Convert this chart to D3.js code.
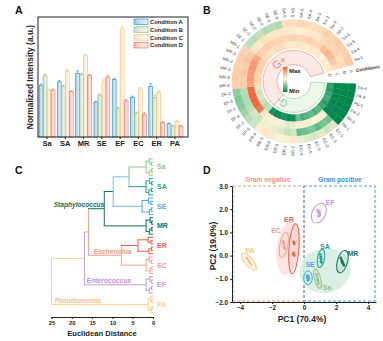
<!DOCTYPE html>
<html><head><meta charset="utf-8">
<script src="https://cdn.jsdelivr.net/npm/d3@7"></script>
<style>body{margin:0;background:#fff}svg{display:block}text{font-family:"Liberation Sans",Arial,Helvetica,sans-serif}</style>
</head><body><svg id="c" width="383" height="341"></svg>
<script>
// ---------------- DATA ----------------
// Panel A
const barCategories = ["Sa","SA","MR","SE","EF","EC","ER","PA"];
const conditions = ["Condition A","Condition B","Condition C","Condition D"];
const condA = [0.43,0.46,0.53,0.29,0.48,0.33,0.42,0.11];
const condB = [0.51,0.42,0.52,0.35,0.24,0.20,0.33,0.09];
const condC = [0.39,0.55,0.68,0.46,0.90,0.40,0.37,0.13];
const condD = [0.39,0.38,0.51,0.50,0.30,0.19,0.12,0.09];
const errA = [0.012,0.012,0.022,0.008,0.010,0.010,0.025,0.006];
const errB = [0.015,0.012,0.012,0.010,0.008,0.008,0.020,0.006];
const errC = [0.010,0.010,0.012,0.020,0.018,0.012,0.015,0.008];
const errD = [0.010,0.006,0.010,0.015,0.012,0.012,0.008,0.008];

// Panel B (circular heatmap, clockwise from 3 o'clock)
const hmLabels = ["PA-4","PA-6","PA-5","PA-2","PA-3","PA-1",
 "EC-1","EC-3","EC-2","EC-5","EC-6","EC-4",
 "ER-2","ER-1","ER-5","ER-6","ER-3","ER-4",
 "EF-6","EF-5","EF-4","EF-1","EF-3","EF-2",
 "MR-4","MR-6","MR-5","MR-2","MR-3","MR-1",
 "SE-1","SE-3","SE-2","SE-6","SE-4","SE-5",
 "SA-5","SA-1","SA-6","SA-4","SA-2","SA-3",
 "Sa-3","Sa-2","Sa-6","Sa-5","Sa-4","Sa-1"];
const hmD = [0.15,0.13,0.16,0.18,0.14,0.16, 0.21,0.19,0.22,0.20,0.18,0.23, 0.10,0.09,0.11,0.10,0.09,0.11,
 0.36,0.34,0.37,0.40,0.38,0.41, 0.58,0.60,0.57,0.62,0.59,0.60, 0.55,0.54,0.52,0.54,0.56,0.53,
 0.50,0.49,0.52,0.50,0.48,0.51, 0.49,0.50,0.47,0.50,0.48,0.49];
const hmC = [0.07,0.06,0.08,0.07,0.09,0.07, 0.45,0.47,0.46,0.44,0.47,0.45, 0.43,0.41,0.45,0.46,0.47,0.48,
 0.52,0.86,0.90,0.92,0.93,0.91, 0.73,0.76,0.75,0.78,0.77,0.72, 0.60,0.58,0.61,0.59,0.57,0.58,
 0.57,0.59,0.56,0.58,0.60,0.57, 0.57,0.66,0.69,0.66,0.62,0.56];
const hmB = [0.05,0.04,0.05,0.06,0.04,0.05, 0.24,0.25,0.22,0.26,0.24,0.23, 0.40,0.37,0.41,0.43,0.45,0.44,
 0.38,0.40,0.36,0.34,0.33,0.35, 0.62,0.60,0.63,0.61,0.64,0.62, 0.52,0.50,0.53,0.51,0.50,0.52,
 0.50,0.48,0.47,0.49,0.51,0.50, 0.55,0.58,0.57,0.59,0.54,0.56];
const hmA = [0.03,0.03,0.04,0.03,0.04,0.03, 0.41,0.39,0.42,0.40,0.41,0.43, 0.49,0.47,0.46,0.50,0.51,0.48,
 0.38,0.35,0.31,0.27,0.26,0.28, 0.60,0.62,0.61,0.59,0.60,0.58, 0.36,0.35,0.37,0.34,0.35,0.33,
 0.55,0.54,0.57,0.55,0.53,0.56, 0.60,0.58,0.61,0.59,0.60,0.62];
const ringConditions = ["D","C","B","A"];

// Panel C (dendrogram)
const dendroGroups = ["Sa","SA","SE","MR","ER","EC","EF","PA"];
const groupRootH = [1.7,1.7,2.7,1.7,3.7,1.7,1.7,1.2];
const groupSubH = [[0.9,0.8],[0.8,1.0],[1.1,0.9],[0.7,0.9],[1.2,1.0],[0.9,0.7],[0.8,0.9],[0.6,0.5]];
const groupPairH = [[0.4,0.3],[0.3,0.4],[0.5,0.4],[0.3,0.3],[0.5,0.4],[0.4,0.3],[0.3,0.4],[0.3,0.2]];
const mergeA = ["Sa","n1","n2","ER","n3","n5","n6"];
const mergeB = ["SA","SE","MR","EC","n4","EF","PA"];
const mergeH = [5.9,9.8,12.0,7.8,15.9,16.9,25];
const distTicks = [25,20,15,10,5,0];

// Panel D (PCA)
const pcaGroups = ["PA","EC","ER","EF","SA","MR","SE","Sa"];
const pcaPoints = {
 PA:[[-3.58,-0.1],[-3.52,-0.16],[-3.44,-0.24],[-3.36,-0.32],[-3.3,-0.4],[-3.42,-0.28]],
 EC:[[-1.3,0.62],[-1.28,0.52],[-1.22,0.42],[-1.25,0.35],[-1.2,0.3],[-1.27,0.56]],
 ER:[[-0.66,0.6],[-0.6,0.55],[-0.62,0.5],[-0.68,0.06],[-0.6,0.0],[-0.64,0.12]],
 EF:[[0.85,1.95],[0.9,1.86],[0.96,1.9],[1.0,1.8],[0.98,1.74],[0.92,1.7]],
 SA:[[1.02,0.05],[1.05,-0.05],[1.08,-0.15],[1.06,-0.25],[1.1,-0.3],[1.04,-0.1]],
 MR:[[2.3,-0.1],[2.35,-0.2],[2.4,-0.25],[2.45,-0.35],[2.5,-0.42],[2.38,-0.3]],
 SE:[[0.2,-0.86],[0.28,-0.9],[0.22,-0.98],[0.3,-1.0],[0.25,-1.06],[0.2,-0.95]],
 Sa:[[0.78,-0.8],[0.82,-0.9],[0.85,-1.0],[0.88,-1.1],[0.9,-1.2],[0.84,-1.05]]
};
const pcaEllipseCenter = {PA:[-3.44,-0.26],EC:[-1.26,0.46],ER:[-0.63,0.3],EF:[0.93,1.83],SA:[1.06,-0.12],MR:[2.4,-0.26],SE:[0.25,-0.96],Sa:[0.85,-1.0]};
const pcaEllipseRadius = {PA:[0.25,0.45],EC:[0.25,0.56],ER:[0.31,1.08],EF:[0.42,0.45],SA:[0.22,0.4],MR:[0.32,0.5],SE:[0.27,0.3],Sa:[0.19,0.42]};
const pcaEllipseTilt = {PA:-40,EC:10,ER:4,EF:25,SA:10,MR:15,SE:0,Sa:-15};
const hullCenter = {neg:[-0.97,0.33], pos:[1.32,-0.65]};
const hullRadius = {neg:[0.74,1.16], pos:[1.62,0.96]};
const hullTilt = {neg:8, pos:-12};
const pcaLabelPos = {PA:[-3.375,0.2],EC:[-1.75,1.06],ER:[-0.94,1.54],EF:[1.63,2.27],SA:[1.31,0.37],MR:[3.06,0.07],SE:[0.38,-0.4],Sa:[1.44,-1.39]};

// ---------------- STYLE ----------------
const svg = d3.select("#c");
const defs = svg.append("defs");
const colA = ["#3a9ad9","#98c08a","#f9c784","#f37b68"];
const bugColor = {Sa:"#93c587",SA:"#1fa08e",SE:"#4aa8e2",MR:"#12705f",ER:"#f05b48",EC:"#f5a092",EF:"#c79bd8",PA:"#fbcf8c"};

// panel letters
[["A",15,14],["B",203,14],["C",15,174],["D",203,174]].forEach(([t,x,y])=>
  svg.append("text").attr("x",x).attr("y",y).attr("font-size",10.5).attr("font-weight","bold").attr("fill","#111").text(t));

// ---------------- PANEL A ----------------
(function(){
  const gA = svg.append("g");
  const x0 = d3.scaleBand().domain(barCategories).range([39,183]).paddingInner(0.12);
  const x1 = d3.scaleBand().domain(conditions).range([0,x0.bandwidth()]).padding(0.03);
  const y = d3.scaleLinear().domain([0,1]).range([137,17]);
  const series = [condA,condB,condC,condD], errs=[errA,errB,errC,errD];
  colA.forEach((c,i)=>{
    const lg = defs.append("linearGradient").attr("id","gA"+i).attr("x1","0").attr("x2","1").attr("y1","0").attr("y2","0");
    lg.append("stop").attr("offset","0%").attr("stop-color",c).attr("stop-opacity",0.55);
    lg.append("stop").attr("offset","40%").attr("stop-color",c).attr("stop-opacity",0.3);
    lg.append("stop").attr("offset","100%").attr("stop-color",c).attr("stop-opacity",0.15);
  });
  conditions.forEach((cond,ci)=>{
    const g = gA.append("g");
    g.selectAll("rect").data(series[ci]).join("rect")
      .attr("x",(v,i)=>x0(barCategories[i])+x1(cond)).attr("y",v=>y(v))
      .attr("width",x1.bandwidth()).attr("height",v=>y(0)-y(v))
      .attr("fill","url(#gA"+ci+")").attr("stroke",colA[ci]).attr("stroke-width",0.7);
    g.selectAll("path").data(series[ci]).join("path")
      .attr("d",(v,i)=>{const cx=x0(barCategories[i])+x1(cond)+x1.bandwidth()/2; const t=y(v+errs[ci][i]);
        return `M${cx},${y(v)}V${t}M${cx-1.3},${t}H${cx+1.3}`;})
      .attr("stroke",colA[ci]).attr("stroke-width",0.7).attr("fill","none");
  });
  gA.append("rect").attr("x",38).attr("y",17).attr("width",150).attr("height",120).attr("fill","none").attr("stroke","#222").attr("stroke-width",1);
  const ax = gA.append("g").attr("transform","translate(0,137)").call(d3.axisBottom(x0).tickSize(2).tickPadding(2));
  ax.select(".domain").remove();
  ax.selectAll("line").attr("stroke","#222");
  ax.selectAll("text").attr("font-size",7.5).attr("font-weight","bold").attr("fill","#222").attr("font-family",null);
  gA.append("text").attr("transform","translate(33,77) rotate(-90)").attr("text-anchor","middle")
    .attr("font-size",8.4).attr("font-weight","bold").attr("fill","#222").text("Normalized Intensity (a.u.)");
  const lg = gA.append("g");
  conditions.forEach((c,i)=>{
    const yy = 19 + i*7.8;
    lg.append("rect").attr("x",134).attr("y",yy).attr("width",14).attr("height",5.6)
      .attr("fill","url(#gA"+i+")").attr("stroke",colA[i]).attr("stroke-width",0.7);
    lg.append("text").attr("x",150).attr("y",yy+4.9).attr("font-size",5.8).attr("font-weight","bold").attr("fill","#222").text(c);
  });
})();

// ---------------- PANEL B ----------------
(function(){
  const cx=294, cy=81.5;
  const g = svg.append("g").attr("transform",`translate(${cx},${cy})`);
  const hmColor = d3.scaleLinear().domain([0.08,0.28,0.46,0.62,0.92])
     .range(["#00874e","#8ccfa2","#fdf3d6","#fbcaa6","#f4623a"]).clamp(true);
  const n = hmLabels.length;
  const ang = d3.scaleLinear().domain([0,n]).range([2,344]);
  const rad = d => (d+90)*Math.PI/180;
  const ringR = d3.scaleLinear().domain([0,4]).range([33,62]);
  const arc = d3.arc();
  [hmD,hmC,hmB,hmA].forEach((vals,ri)=>{
    g.append("g").selectAll("path").data(vals).join("path")
      .attr("d",(v,i)=>arc({innerRadius:ringR(ri),outerRadius:ringR(ri+1),startAngle:rad(ang(i)),endAngle:rad(ang(i+1))}))
      .attr("fill",v=>hmColor(v)).attr("stroke",v=>hmColor(v)).attr("stroke-width",0.25);
  });
  g.append("g").selectAll("text").data(hmLabels).join("text")
    .attr("transform",(t,i)=>{const a=ang(i+0.5); const f=a>90&&a<270; return `rotate(${a}) translate(${f?64.5:64},0)`+(f?" rotate(180)":"");})
    .attr("text-anchor",(t,i)=>{const a=ang(i+0.5); return a>90&&a<270?"end":"start";})
    .attr("dy","0.35em").attr("font-size",4.3).attr("fill","#444").text(t=>t);
  g.append("path").attr("d",arc({innerRadius:17,outerRadius:31,startAngle:rad(ang(18)),endAngle:rad(ang(48))}))
    .attr("fill","#fde9e6").attr("stroke","#f5a79d").attr("stroke-width",0.9);
  g.append("path").attr("d",arc({innerRadius:17,outerRadius:31,startAngle:rad(ang(0)),endAngle:rad(ang(18))}))
    .attr("fill","#eef6eb").attr("stroke","#b7d9ae").attr("stroke-width",0.9);
  const pol=(a,r)=>[r*Math.cos(a*Math.PI/180), r*Math.sin(a*Math.PI/180)];
  let p=pol(232,24);
  g.append("text").attr("transform",`translate(${p[0]},${p[1]}) rotate(-36)`).attr("text-anchor","middle").attr("dy","0.35em")
    .attr("font-size",11).attr("fill","#f28b7f").text("G+");
  p=pol(120,24);
  g.append("text").attr("transform",`translate(${p[0]},${p[1]}) rotate(210)`).attr("text-anchor","middle").attr("dy","0.35em")
    .attr("font-size",10).attr("fill","#8cc58a").text("G-");
  const cg = defs.append("linearGradient").attr("id","cbar").attr("x1","0").attr("x2","0").attr("y1","0").attr("y2","1");
  [[0,"#f4623a"],[0.3,"#fbcaa6"],[0.5,"#fdf3d6"],[0.7,"#8ccfa2"],[1,"#00874e"]].forEach(([o,c])=>cg.append("stop").attr("offset",o).attr("stop-color",c));
  g.append("rect").attr("x",-11).attr("y",-14.5).attr("width",4.5).attr("height",25).attr("fill","url(#cbar)");
  g.append("text").attr("x",-5).attr("y",-8.5).attr("font-size",6).attr("font-weight","bold").attr("fill","#222").text("Max");
  g.append("text").attr("x",-5).attr("y",11.5).attr("font-size",6).attr("font-weight","bold").attr("fill","#222").text("Min");
  const ca = 350;
  ringConditions.forEach((c,ri)=>{
    g.append("text").attr("transform",`rotate(${ca}) translate(${ringR(ri+0.5)},0) rotate(90)`)
      .attr("text-anchor","middle").attr("dy","0.35em").attr("font-size",4.2).attr("fill","#444").text(c);
  });
  g.append("text").attr("transform",`rotate(${ca}) translate(63,0)`).attr("dy","0.35em")
    .attr("font-size",4.6).attr("font-weight","bold").attr("fill","#333").text("Conditions");
})();

// ---------------- PANEL C ----------------
(function(){
  const g = svg.append("g");
  const nodes = {};
  dendroGroups.forEach((gr,gi)=>{
    const c = bugColor[gr];
    const leaf = ()=>({h:0,color:c});
    nodes[gr] = {id:gr,h:groupRootH[gi],color:c,children:[
      {h:groupSubH[gi][0],color:c,children:[leaf(),{h:groupPairH[gi][0],color:c,children:[leaf(),leaf()]}]},
      {h:groupSubH[gi][1],color:c,children:[{h:groupPairH[gi][1],color:c,children:[leaf(),leaf()]},leaf()]}
    ]};
  });
  const mergeColor = {n1:"#6bbfa8",n2:"#6fbbe6",n3:"#12705f",n4:"#f5a092",n5:"#f5a092",n6:"#c79bd8",n7:"#fbcf8c"};
  mergeH.forEach((h,i)=>{
    const id="n"+(i+1);
    nodes[id]={id,h,color:mergeColor[id],children:[nodes[mergeA[i]],nodes[mergeB[i]]]};
  });
  nodes["n3"].hc = "#12705f"; nodes["Sa"].hc = bugColor.Sa; nodes["SA"].hc = bugColor.SA;
  nodes["ER"].hc = bugColor.ER;
  const root = d3.hierarchy(nodes["n7"]);
  d3.cluster().size([1,1]).separation(()=>1)(root);
  const xC = d3.scaleLinear().domain([25,0]).range([51.5,153]);
  const yC = d3.scaleLinear().domain([0,1]).range([157.2,314.2]);
  root.descendants().filter(d=>d.parent).forEach(d=>{
    const p=d.parent;
    const px=xC(p.data.h), py=yC(p.x), nx=xC(d.data.h), ny=yC(d.x);
    g.append("path").attr("d",`M${px},${py}V${ny}`).attr("stroke",p.data.color).attr("stroke-width",1).attr("fill","none");
    g.append("path").attr("d",`M${px-0.5},${ny}H${nx}`).attr("stroke",d.data.hc||p.data.color).attr("stroke-width",1).attr("fill","none");
  });
  root.descendants().filter(d=>dendroGroups.includes(d.data.id)).forEach(d=>{
    g.append("text").attr("x",157).attr("y",yC(d.x)).attr("dy","0.35em").attr("font-size",7).attr("font-weight","bold")
      .attr("fill",bugColor[d.data.id]).text(d.data.id);
  });
  const nd = id=>root.descendants().find(d=>d.data.id===id);
  const n3=nd("n3"), n4=nd("n4"), n5=nd("n5"), n6=nd("n6"), n7=nd("n7"), ef=nd("EF"), pa=nd("PA");
  g.append("text").attr("x",xC(n3.data.h)).attr("y",yC(n3.x)-1.5).attr("text-anchor","end").attr("font-size",6.6)
    .attr("font-weight","bold").attr("font-style","italic").attr("fill","#12705f").text("Staphylococcus");
  g.append("text").attr("x",xC(n5.data.h)+5).attr("y",yC(n4.x)-1.5).attr("font-size",6.8).attr("font-weight",600)
    .attr("font-style","italic").attr("fill","#f39a8b").text("Escherichia");
  g.append("text").attr("x",xC(n6.data.h)+2).attr("y",yC(ef.x)-1.5).attr("font-size",6.8).attr("font-weight",600)
    .attr("font-style","italic").attr("fill","#c194d4").text("Enterococcus");
  g.append("text").attr("x",xC(n7.data.h)+3).attr("y",yC(pa.x)-1.5).attr("font-size",6.8).attr("font-weight",600)
    .attr("font-style","italic").attr("fill","#f8c274").text("Pseudomonas");
  const ax = g.append("g").attr("transform","translate(0,317)").call(d3.axisBottom(xC).tickValues(distTicks).tickSize(2).tickPadding(1.5));
  ax.selectAll("line,path").attr("stroke","#222");
  ax.selectAll("text").attr("font-size",5.8).attr("font-weight","bold").attr("fill","#222").attr("font-family",null);
  g.append("text").attr("x",102).attr("y",336).attr("text-anchor","middle").attr("font-size",7.6).attr("font-weight","bold").attr("fill","#222").text("Euclidean Distance");
})();

// ---------------- PANEL D ----------------
(function(){
  const g = svg.append("g");
  const x = d3.scaleLinear().domain([-4.5,4.5]).range([232,376]);
  const y = d3.scaleLinear().domain([-2,3]).range([302,186]);
  const ell = (c,r,t)=>{const cx=x(c[0]),cy=y(c[1]);
    return g.append("ellipse").attr("cx",cx).attr("cy",cy).attr("rx",x(r[0])-x(0)).attr("ry",y(0)-y(r[1]))
      .attr("transform",`rotate(${t},${cx},${cy})`);};
  g.append("rect").attr("x",x(-4.5)+1).attr("y",y(3)).attr("width",x(0)-x(-4.5)-1).attr("height",y(-2)-y(3)-1)
    .attr("fill","none").attr("stroke","#f4937f").attr("stroke-width",1.1).attr("stroke-dasharray","3,2");
  g.append("rect").attr("x",x(0)).attr("y",y(3)).attr("width",x(4.5)-x(0)-1).attr("height",y(-2)-y(3)-1)
    .attr("fill","none").attr("stroke","#4a9ee0").attr("stroke-width",1.1).attr("stroke-dasharray","3,2");
  g.append("text").attr("x",(x(-4.5)+x(0))/2).attr("y",182).attr("text-anchor","middle").attr("font-size",6.5).attr("font-weight","bold").attr("fill","#f4937f").text("Gram negative");
  g.append("text").attr("x",(x(0)+x(4.5))/2).attr("y",182).attr("text-anchor","middle").attr("font-size",6.5).attr("font-weight","bold").attr("fill","#3d94dc").text("Gram positive");
  ell(hullCenter.neg,hullRadius.neg,hullTilt.neg).attr("fill","#fbe1dc").attr("opacity",0.85);
  ell(hullCenter.pos,hullRadius.pos,hullTilt.pos).attr("fill","#d5ece1").attr("opacity",0.85);
  pcaGroups.forEach(k=>{
    const c = bugColor[k]==="#fbcf8c"?"#f8c57c":bugColor[k];
    ell(pcaEllipseCenter[k],pcaEllipseRadius[k],pcaEllipseTilt[k]).attr("fill",c).attr("fill-opacity",0.08).attr("stroke",c).attr("stroke-width",1);
    g.append("g").selectAll("circle").data(pcaPoints[k]).join("circle")
      .attr("cx",d=>x(d[0])).attr("cy",d=>y(d[1])).attr("r",1.3).attr("fill",c);
    g.append("text").attr("x",x(pcaLabelPos[k][0])).attr("y",y(pcaLabelPos[k][1])).attr("dy","0.35em").attr("text-anchor","middle")
      .attr("font-size",7).attr("font-weight","bold").attr("fill",c).text(k);
  });
  const ax = g.append("g").attr("transform","translate(0,302)").call(d3.axisBottom(x).tickValues([-4,-2,0,2,4]).tickSize(2).tickSizeOuter(0).tickPadding(2));
  const ay = g.append("g").attr("transform","translate(232,0)").call(d3.axisLeft(y).tickValues([-2,-1,0,1,2,3]).tickSize(2).tickSizeOuter(0).tickPadding(2));
  [ax,ay].forEach(a=>{a.selectAll("line,path").attr("stroke","#222").attr("stroke-width",1);
    a.selectAll("text").attr("font-size",6.3).attr("font-weight","bold").attr("fill","#222").attr("font-family",null);});
  g.append("text").attr("x",302).attr("y",322).attr("text-anchor","middle").attr("font-size",8.5).attr("font-weight","bold").attr("fill","#222").text("PC1 (70.4%)");
  g.append("text").attr("transform","translate(216,246) rotate(-90)").attr("text-anchor","middle").attr("font-size",8.5).attr("font-weight","bold").attr("fill","#222").text("PC2 (19.0%)");
})();
</script></body></html>
